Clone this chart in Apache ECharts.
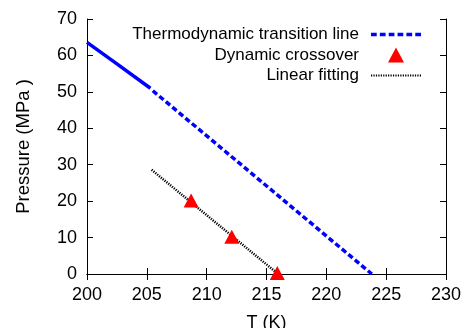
<!DOCTYPE html>
<html><head><meta charset="utf-8">
<script src="https://cdn.jsdelivr.net/npm/echarts@6/dist/echarts.min.js"></script>
<style>html,body{margin:0;padding:0;background:#fff}#c{width:464px;height:328px}</style>
</head><body><div id="c"></div>
<script>
const transitionSolid = [[200, 63.6], [202.5, 57.7], [205.3, 51.0]];
const transitionDashed = [[205.5, 50.3], [223.8, 0]];
const crossover = [[208.7, 20.2], [212.1, 10.2], [215.9, 0.3]];
const fitting = [[205.4, 28.6], [215.9, 0.2]];
const legendNames = ['Thermodynamic transition line', 'Dynamic crossover', 'Linear fitting'];

const FONT = 'Liberation Sans';

// legend sample icons (pure styling)
function dashPath(total, dash, gap, h) {
  let d = '';
  for (let x = 0; x < total - 0.01; x += dash + gap) {
    const w = Math.min(dash, total - x);
    d += 'M' + x + ',0h' + w + 'v' + h + 'h' + (-w) + 'Z';
  }
  return 'path://' + d;
}
const dashedIcon = dashPath(50, 5.5, 3, 3.5);
const dottedIcon = dashPath(50, 1.2, 1.2, 2.2);
const triangleIcon = 'path://M8,0L16,15L0,15Z';

const chart = echarts.init(document.getElementById('c'));
const axisCommon = {
  axisLine: {show: true, lineStyle: {color: '#000', width: 1}},
  axisTick: {show: true, inside: true, length: 6, lineStyle: {color: '#000'}},
  splitLine: {show: false}
};
const iconFor = {};
iconFor[legendNames[0]] = dashedIcon;
iconFor[legendNames[1]] = triangleIcon;
iconFor[legendNames[2]] = dottedIcon;
chart.setOption({
  animation: false,
  textStyle: {fontFamily: FONT},
  grid: {left: 87, right: 18, top: 19, bottom: 54, outerBoundsMode: 'none', containLabel: false},
  legend: {
    data: legendNames.map(n => ({name: n, icon: iconFor[n], itemStyle: {borderWidth: 0}})),
    orient: 'vertical', align: 'right',
    right: 38, top: 21,
    itemWidth: 50, itemHeight: 15, itemGap: 3.5,
    symbolKeepAspect: true,
    textStyle: {fontFamily: FONT, fontSize: 17, lineHeight: 15, color: '#000', padding: [0, 7, 0, 0]}
  },
  xAxis: [
    Object.assign({type: 'value', min: 200, max: 230, interval: 5,
      name: 'T (K)', nameLocation: 'middle', nameGap: 40,
      nameTextStyle: {fontSize: 18, color: '#000', fontFamily: FONT},
      axisLabel: {fontSize: 18, color: '#000', margin: 12, fontFamily: FONT}}, axisCommon),
    Object.assign({type: 'value', min: 200, max: 230, interval: 5, position: 'top',
      axisLabel: {show: false}}, axisCommon)
  ],
  yAxis: [
    Object.assign({type: 'value', min: 0, max: 70, interval: 10,
      name: 'Pressure (MPa )', nameLocation: 'middle', nameGap: 54,
      nameTextStyle: {fontSize: 18.5, color: '#000', fontFamily: FONT},
      axisLabel: {fontSize: 18, color: '#000', margin: 10, fontFamily: FONT}}, axisCommon),
    Object.assign({type: 'value', min: 0, max: 70, interval: 10, position: 'right',
      axisLabel: {show: false}}, axisCommon)
  ],
  series: [
    {name: 'solidPart', type: 'line', data: transitionSolid, symbol: 'none',
      lineStyle: {color: '#0000ff', width: 3.5, type: 'solid'}, itemStyle: {color: '#0000ff'}},
    {name: legendNames[0], type: 'line', data: transitionDashed, symbol: 'none',
      lineStyle: {color: '#0000ff', width: 3.5, type: [5.5, 3]}, itemStyle: {color: '#0000ff'}},
    {name: legendNames[2], type: 'line', data: fitting, symbol: 'none', z: 2,
      lineStyle: {color: '#000', width: 2.5, type: [1.2, 1.2]}, itemStyle: {color: '#000'}},
    {name: legendNames[1], type: 'scatter', data: crossover, symbol: 'triangle', symbolSize: [15, 14], z: 3,
      itemStyle: {color: '#ff0000', opacity: 1}}
  ]
});
</script></body></html>
